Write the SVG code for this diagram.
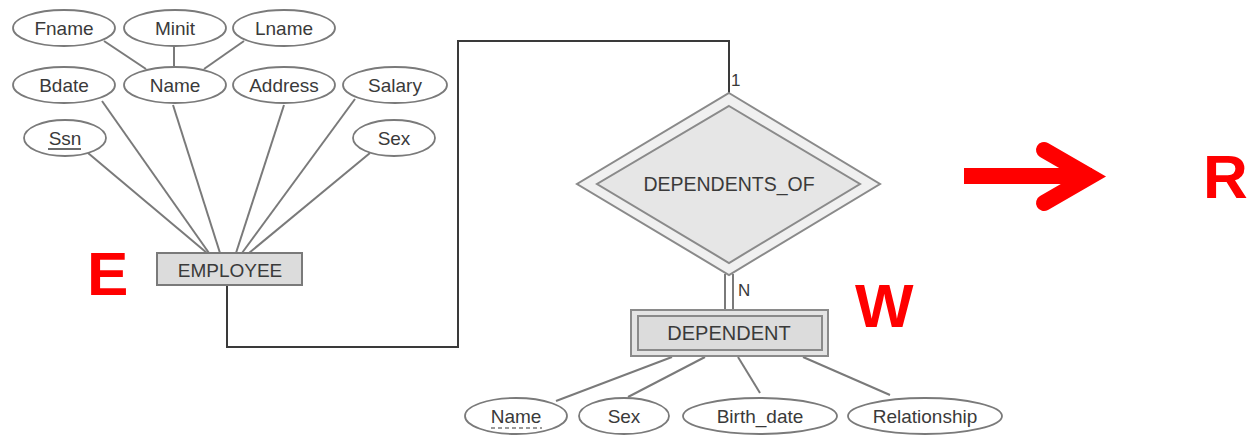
<svg xmlns="http://www.w3.org/2000/svg" width="1249" height="436" viewBox="0 0 1249 436">
<style>
.attr{fill:#fff;stroke:#7a7a7a;stroke-width:1.8}
.t{font-family:"Liberation Sans",Arial,sans-serif;font-size:19px;fill:#3a3a3a;text-anchor:middle}
.al{stroke:#7a7a7a;stroke-width:2;fill:none}
.conn{stroke:#3a3a3a;stroke-width:2;fill:none}
.big{font-family:"Liberation Sans",Arial,sans-serif;font-size:62px;font-weight:bold;fill:#ff0000}
.card{font-family:"Liberation Sans",Arial,sans-serif;font-size:17px;fill:#3a3a3a}
</style>
<rect width="1249" height="436" fill="#fff"/>
<g id="attr-lines">
<line class="al" x1="104" y1="41" x2="146" y2="69"/>
<line class="al" x1="174" y1="45" x2="174" y2="66"/>
<line class="al" x1="244" y1="41" x2="204" y2="69"/>
<line class="al" x1="102" y1="101" x2="209" y2="253"/>
<line class="al" x1="173" y1="105" x2="220" y2="253"/>
<line class="al" x1="284" y1="105" x2="236" y2="253"/>
<line class="al" x1="355" y1="99" x2="242" y2="253"/>
<line class="al" x1="370" y1="153" x2="249" y2="253"/>
<line class="al" x1="88" y1="153" x2="207" y2="253"/>
<line class="al" x1="556" y1="401" x2="672" y2="357"/>
<line class="al" x1="628" y1="397" x2="705" y2="357"/>
<line class="al" x1="760" y1="393" x2="738" y2="357"/>
<line class="al" x1="890" y1="395" x2="803" y2="357"/>
<line class="al" x1="725" y1="274" x2="725" y2="310"/>
<line class="al" x1="733" y1="274" x2="733" y2="310"/>
</g>
<g id="connectors">
<polyline class="conn" points="227,286 227,347 458,347 458,41 729,41 729,93"/>
<text class="card" x="731" y="86">1</text>
<text class="card" x="738" y="296">N</text>
</g>
<g id="Fname"><ellipse class="attr" cx="64" cy="28" rx="51" ry="18"/><text class="t" x="64" y="35">Fname</text></g>
<g id="Minit"><ellipse class="attr" cx="175" cy="28" rx="51" ry="18"/><text class="t" x="175" y="35">Minit</text></g>
<g id="Lname"><ellipse class="attr" cx="284" cy="28" rx="51" ry="18"/><text class="t" x="284" y="35">Lname</text></g>
<g id="Bdate"><ellipse class="attr" cx="64" cy="85" rx="51" ry="18"/><text class="t" x="64" y="92">Bdate</text></g>
<g id="Name"><ellipse class="attr" cx="175" cy="85" rx="51" ry="18"/><text class="t" x="175" y="92">Name</text></g>
<g id="Address"><ellipse class="attr" cx="284" cy="85" rx="51" ry="18"/><text class="t" x="284" y="92">Address</text></g>
<g id="Salary"><ellipse class="attr" cx="395" cy="85" rx="52" ry="18"/><text class="t" x="395" y="92">Salary</text></g>
<g id="Ssn"><ellipse class="attr" cx="65" cy="138" rx="41" ry="18"/><text class="t" x="65" y="145">Ssn</text><line x1="48" y1="149" x2="81" y2="149" stroke="#3a3a3a" stroke-width="1.5"/></g>
<g id="Sex"><ellipse class="attr" cx="394" cy="138" rx="41" ry="18"/><text class="t" x="394" y="145">Sex</text></g>
<g id="EMPLOYEE"><rect x="157" y="253" width="145" height="32" fill="#dcdcdc" stroke="#7a7a7a" stroke-width="2"/><text class="t" x="230" y="277">EMPLOYEE</text></g>
<g id="DEPENDENTS_OF">
<polygon points="729,93 880,184 729,275 577,184" fill="#f0f0f0" stroke="#8a8a8a" stroke-width="2"/>
<polygon points="729,106 860,184 729,263 597,184" fill="#e6e6e6" stroke="#8a8a8a" stroke-width="2"/>
<text class="t" x="729" y="191" style="font-size:19.5px">DEPENDENTS_OF</text>
</g>
<g id="DEPENDENT">
<rect x="631" y="310" width="197" height="46" fill="#e4e4e4" stroke="#8a8a8a" stroke-width="2"/>
<rect x="638" y="316" width="184" height="34" fill="#dcdcdc" stroke="#8a8a8a" stroke-width="2"/>
<text class="t" x="729" y="340" style="font-size:20px">DEPENDENT</text>
</g>
<g id="DName"><ellipse class="attr" cx="516" cy="416" rx="51" ry="18"/><text class="t" x="516" y="423">Name</text><line x1="491" y1="428" x2="542" y2="428" stroke="#7a7a7a" stroke-width="1.5" stroke-dasharray="4,3"/></g>
<g id="DSex"><ellipse class="attr" cx="624" cy="416" rx="45" ry="18"/><text class="t" x="624" y="423">Sex</text></g>
<g id="Birth_date"><ellipse class="attr" cx="760" cy="416" rx="77" ry="18"/><text class="t" x="760" y="423">Birth_date</text></g>
<g id="Relationship"><ellipse class="attr" cx="925" cy="416" rx="77" ry="18"/><text class="t" x="925" y="423">Relationship</text></g>
<g id="labels">
<text class="big" x="87" y="295">E</text>
<text class="big" x="855" y="327">W</text>
<text class="big" x="1203" y="198">R</text>
</g>
<g id="arrow">
<line x1="964" y1="176" x2="1092" y2="176" stroke="#ff0000" stroke-width="16"/>
<polyline points="1044,150 1090,176.5 1044,203" fill="none" stroke="#ff0000" stroke-width="16" stroke-linecap="round" stroke-linejoin="miter"/>
</g>
</svg>
